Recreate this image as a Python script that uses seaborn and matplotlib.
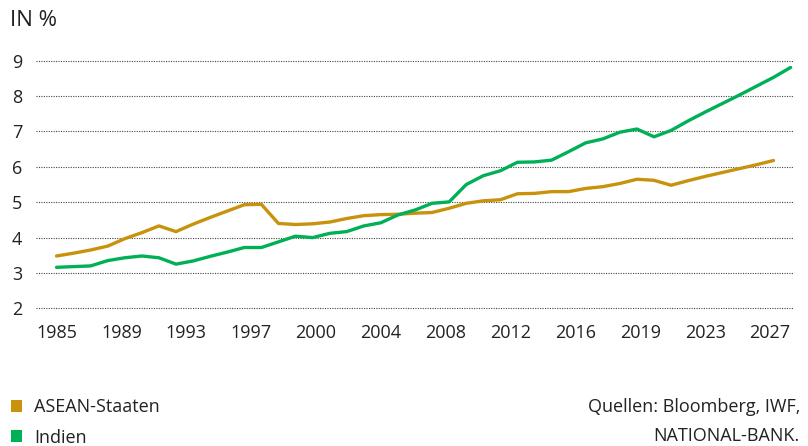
import pandas as pd
import numpy as np
import matplotlib.pyplot as plt
import seaborn as sns
from matplotlib.patches import Patch

# values (in %)
years_asean = list(range(1985, 2028))
asean = [3.48, 3.56, 3.65, 3.76, 3.97, 4.14, 4.33, 4.17, 4.38, 4.57,
         4.75, 4.93, 4.94, 4.40, 4.37, 4.39, 4.44, 4.54, 4.62, 4.65,
         4.66, 4.69, 4.71, 4.83, 4.97, 5.04, 5.07, 5.24, 5.25, 5.30,
         5.30, 5.39, 5.44, 5.53, 5.65, 5.62, 5.48, 5.61, 5.73, 5.84,
         5.95, 6.06, 6.18]

years_indien = list(range(1985, 2029))
indien = [3.16, 3.18, 3.20, 3.35, 3.43, 3.48, 3.43, 3.25, 3.34, 3.47,
          3.59, 3.72, 3.72, 3.88, 4.04, 4.00, 4.12, 4.17, 4.33, 4.42,
          4.64, 4.78, 4.97, 5.01, 5.50, 5.75, 5.89, 6.13, 6.14, 6.19,
          6.43, 6.68, 6.79, 6.98, 7.07, 6.85, 7.03, 7.30, 7.55, 7.79,
          8.03, 8.28, 8.53, 8.81]

tick_labels = ['1985', '1989', '1993', '1997', '2000', '2004', '2008',
               '2012', '2016', '2019', '2023', '2027']
series_names = ['ASEAN-Staaten', 'Indien']
colors = ['#c8920c', '#00b057']

df = pd.concat([
    pd.DataFrame({'Jahr': years_asean, 'Wert': asean, 'Region': series_names[0]}),
    pd.DataFrame({'Jahr': years_indien, 'Wert': indien, 'Region': series_names[1]}),
])

sns.set_style('white')
plt.rcParams['font.family'] = ['Open Sans', 'DejaVu Sans']

fig = plt.figure(figsize=(8.08, 4.46), dpi=100)
ax = fig.add_axes([0.0446, 0.3007, 0.937, 0.571])

sns.lineplot(data=df, x='Jahr', y='Wert', hue='Region', palette=colors,
             linewidth=2.4, legend=False, ax=ax)

ax.set_xlim(1983.8, 2028.15)
ax.set_ylim(1.9, 9.1)
ax.set_yticks(range(2, 10))
ax.set_xticks(np.linspace(1985, 2026.8, len(tick_labels)))
ax.set_xticklabels(tick_labels)
ax.tick_params(axis='both', length=0, labelsize=13, colors='#222222')
ax.tick_params(axis='y', pad=10)
ax.tick_params(axis='x', pad=9)
ax.set_xlabel('')
ax.set_ylabel('')
for s in ax.spines.values():
    s.set_visible(False)
ax.yaxis.grid(True, color='#444444', linewidth=0.8, linestyle=(0, (1, 1.2)))
ax.xaxis.grid(False)

fig.text(0.012, 0.955, 'IN %', fontsize=16, color='#222222', va='center', ha='left')

handles = [Patch(facecolor=c, edgecolor='none') for c in colors]
fig.legend(handles, series_names, loc='lower left', bbox_to_anchor=(-0.002, -0.03),
           frameon=False, fontsize=13, handlelength=0.6, handleheight=0.65,
           handletextpad=0.7, labelspacing=0.68, borderaxespad=0.3,
           labelcolor='#222222')

fig.text(0.99, 0.087, 'Quellen: Bloomberg, IWF,', fontsize=13, color='#222222',
         ha='right', va='center')
fig.text(0.99, 0.022, 'NATIONAL-BANK.', fontsize=13, color='#222222',
         ha='right', va='center')

plt.savefig('out.png', dpi=100)
